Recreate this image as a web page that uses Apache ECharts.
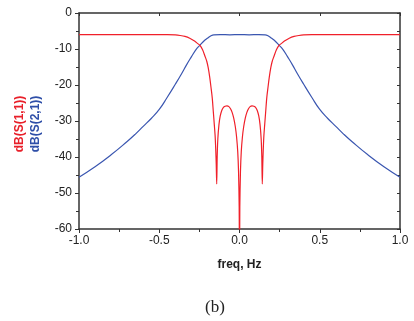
<!DOCTYPE html>
<html>
<head>
<meta charset="utf-8">
<script src="https://cdn.jsdelivr.net/npm/echarts@6/dist/echarts.min.js"></script>
<style>
  html, body { margin: 0; padding: 0; background: #fff; }
  #chart { width: 414px; height: 321px; }
</style>
</head>
<body>
<div id="chart"></div>
<script>
// S(1,1)
const s11Freq = [
  -1.0, -0.6, -0.45, -0.4, -0.37, -0.34, -0.31, -0.28, -0.26, -0.246, -0.23, -0.215,
  -0.204, -0.195, -0.185, -0.178, -0.17,
  -0.163, -0.157, -0.152, -0.148, -0.145, -0.142, -0.139, -0.135, -0.128, -0.12, -0.11,
  -0.1, -0.09, -0.078, -0.066, -0.056, -0.046, -0.036, -0.026, -0.018, -0.011, -0.006,
  -0.002, 0,
  0.002, 0.006, 0.011, 0.018, 0.026, 0.036, 0.046, 0.056, 0.066, 0.078, 0.09, 0.1,
  0.11, 0.12, 0.128, 0.135, 0.139, 0.142, 0.145, 0.148, 0.152, 0.157, 0.163,
  0.17, 0.178, 0.185, 0.195, 0.204, 0.215, 0.23, 0.246, 0.26, 0.28, 0.31, 0.34,
  0.37, 0.4, 0.45, 0.6, 1.0
];
const s11Db = [
  -6.0, -6.0, -6.0, -6.1, -6.25, -6.5, -7.0, -7.8, -8.5, -9.0, -10.2, -12.0,
  -13.4, -15.2, -18.0, -20.5, -23.5,
  -27.5, -31.0, -34.0, -38.0, -42.0, -47.5, -40.0, -35.0, -31.0, -28.6, -27.0,
  -26.2, -25.9, -25.8, -26.0, -26.6, -27.6, -29.2, -31.6, -34.5, -38.5, -44.0,
  -54.0, -75.0,
  -54.0, -44.0, -38.5, -34.5, -31.6, -29.2, -27.6, -26.6, -26.0, -25.8, -25.9, -26.2,
  -27.0, -28.6, -31.0, -35.0, -40.0, -47.5, -42.0, -38.0, -34.0, -31.0, -27.5,
  -23.5, -20.5, -18.0, -15.2, -13.4, -12.0, -10.2, -9.0, -8.5, -7.8, -7.0, -6.5,
  -6.25, -6.1, -6.0, -6.0, -6.0
];

// S(2,1)
const s21Freq = [
  -1.0, -0.9, -0.8, -0.7, -0.65, -0.6, -0.55, -0.5, -0.45, -0.4, -0.36, -0.33, -0.3,
  -0.27, -0.246, -0.22, -0.2, -0.18, -0.16, -0.12, -0.06, 0,
  0.06, 0.12, 0.16, 0.18, 0.2, 0.22, 0.246, 0.27, 0.3, 0.33, 0.36, 0.4, 0.45, 0.5,
  0.55, 0.6, 0.65, 0.7, 0.8, 0.9, 1.0
];
const s21Db = [
  -45.6, -42.7, -39.4, -35.7, -33.7, -31.5, -29.3, -26.8, -23.4, -19.8, -16.8, -14.4, -12.2,
  -10.1, -8.9, -7.7, -7.0, -6.4, -6.05, -6.0, -6.05, -6.0,
  -6.05, -6.0, -6.05, -6.4, -7.0, -7.7, -8.9, -10.1, -12.2, -14.4, -16.8, -19.8, -23.4, -26.8,
  -29.3, -31.5, -33.7, -35.7, -39.4, -42.7, -45.6
];

const xTicks = [-1.0, -0.5, 0.0, 0.5, 1.0];

const zip = (xs, ys) => xs.map((x, i) => [x, ys[i]]);

const chart = echarts.init(document.getElementById('chart'));

const axisLine = { onZero: false, lineStyle: { color: '#333', width: 1.5 } };
const labelFont = { color: '#222', fontSize: 12, fontFamily: 'Liberation Sans, Arial, sans-serif' };

const option = {
  backgroundColor: '#fff',
  animation: false,
  grid: { left: 79, right: 14, top: 13, bottom: 92 },
  xAxis: [
    {
      type: 'value',
      min: xTicks[0],
      max: xTicks[xTicks.length - 1],
      interval: 0.5,
      axisLine: axisLine,
      axisTick: { length: 4, lineStyle: { color: '#333' } },
      minorTick: { show: true, splitNumber: 2, length: 3, lineStyle: { color: '#333' } },
      splitLine: { show: false },
      axisLabel: Object.assign({ margin: 6, formatter: (v) => v.toFixed(1) }, labelFont),
      name: 'freq, Hz',
      nameLocation: 'middle',
      nameGap: 30,
      nameTextStyle: { color: '#222', fontSize: 12, fontWeight: 'bold', fontFamily: 'Liberation Sans, Arial, sans-serif' },
    },
    {
      type: 'value',
      position: 'top',
      min: -1, max: 1, interval: 0.5,
      axisLine: axisLine,
      axisTick: { inside: true, length: 3, lineStyle: { color: '#333' } },
      minorTick: { show: false },
      splitLine: { show: false },
      axisLabel: { show: false },
    },
  ],
  yAxis: [
    {
      type: 'value',
      min: -60, max: 0, interval: 10,
      axisLine: axisLine,
      axisTick: { length: 4, lineStyle: { color: '#333' } },
      minorTick: { show: true, splitNumber: 2, length: 3, lineStyle: { color: '#333' } },
      splitLine: { show: false },
      axisLabel: Object.assign({ margin: 7 }, labelFont),
    },
    {
      type: 'value',
      position: 'right',
      min: -60, max: 0, interval: 10,
      axisLine: axisLine,
      axisTick: { inside: true, length: 3, lineStyle: { color: '#333' } },
      minorTick: { show: true, splitNumber: 2, length: 3, lineStyle: { color: '#333' } },
      splitLine: { show: false },
      axisLabel: { show: false },
    },
  ],
  graphic: [
    {
      type: 'text', x: 20, y: 124, rotation: Math.PI / 2, originX: 0, originY: 0,
      style: { text: 'dB(S(1,1))', fill: '#e8202a', font: 'bold 12px Liberation Sans, Arial, sans-serif', align: 'center', verticalAlign: 'middle' },
    },
    {
      type: 'text', x: 36, y: 124, rotation: Math.PI / 2, originX: 0, originY: 0,
      style: { text: 'dB(S(2,1))', fill: '#2f4fa8', font: 'bold 12px Liberation Sans, Arial, sans-serif', align: 'center', verticalAlign: 'middle' },
    },
    {
      type: 'text', x: 215, y: 308,
      style: { text: '(b)', fill: '#222', font: '17px Liberation Serif, Times New Roman, serif', align: 'center', verticalAlign: 'middle' },
    },
  ],
  series: [
    {
      name: 'dB(S(2,1))',
      type: 'line',
      data: zip(s21Freq, s21Db),
      showSymbol: false,
      smooth: 0.5,
      clip: true,
      lineStyle: { color: '#3a56b0', width: 1.2 },
    },
    {
      name: 'dB(S(1,1))',
      type: 'line',
      data: zip(s11Freq, s11Db),
      showSymbol: false,
      smooth: 0.3,
      clip: true,
      lineStyle: { color: '#f0202a', width: 1.2 },
    },
  ],
};

chart.setOption(option);
</script>
</body>
</html>
